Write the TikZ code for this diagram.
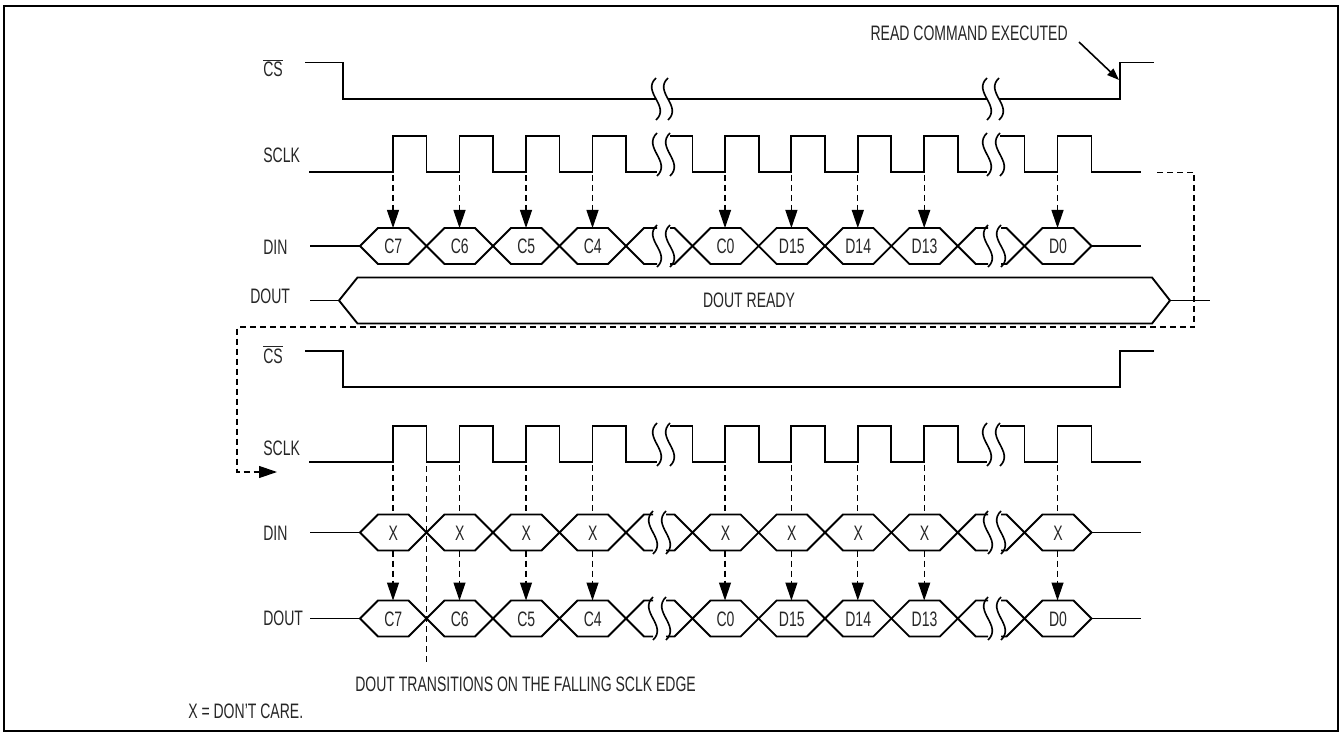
\documentclass[tikz,border=0pt]{standalone}
\usepackage{fontspec}
\setmainfont{Liberation Sans}[FakeStretch=0.67]
\usetikzlibrary{arrows.meta}
% hex cell: #1 left cross x, #2 right cross x, #3 mid y, #4 half height, #5 label, #6 name
\newcommand\hexcell[6]{%
  \draw[sig] (#1,#3) -- (#1+18,#3-#4) -- (#2-18,#3-#4) -- (#2,#3) -- (#2-18,#3+#4) -- (#1+18,#3+#4) -- cycle;
  \node[txt,anchor=base] (#6) at ({(#1+#2)/2},#3+7.5) {#5};}
% lines from a cross into a break: #1 cross x, #2 mid y, #3 half height, #4 squiggle x
\newcommand\tobreak[4]{%
  \draw[sig] (#4,#2-#3) -- (#1+18,#2-#3) -- (#1,#2) -- (#1+18,#2+#3) -- (#4,#2+#3);}
% lines from a break into a cross: #1 squiggle x, #2 mid y, #3 half height, #4 cross x
\newcommand\frombreak[4]{%
  \draw[sig] (#1,#2-#3) -- (#4-18,#2-#3) -- (#4,#2) -- (#4-18,#2+#3) -- (#1,#2+#3);}
% wavy break mark: #1 x, #2 top y, #3 bottom y
\newcommand\wsq[3]{%
  \draw[line width=1.2pt] (#1,#2) .. controls (#1-15,{#2+(#3-#2)/3}) and (#1+15,{#2+2*(#3-#2)/3}) .. (#1,#3);}
\begin{document}
\begin{tikzpicture}[x=0.75pt,y=-0.75pt,
  sig/.style={line width=1.4pt, line join=miter},
  guide/.style={line width=0.9pt, dash pattern=on 4.5pt off 3pt},
  garrow/.style={guide, -{Triangle[length=13.5pt,width=9pt]}},
  txt/.style={inner sep=0pt, text=black!85, font=\fontsize{15.7}{18}\selectfont},
  lbl/.style={txt, anchor=base west},
]
\useasboundingbox (0,0) rectangle (1341,734);
\draw[line width=1.5pt] (4,6) rectangle (1338,731);

% ---------------- labels ----------------
\node[lbl] (csA) at (263,77) {$\overline{\hbox{CS}}$};
\node[lbl] (sclkA) at (263,163) {SCLK};
\node[lbl] (dinA) at (263,255) {DIN};
\node[lbl] (doutA) at (250,303) {DOUT};
\node[lbl] (csB) at (263,363) {$\overline{\hbox{CS}}$};
\node[lbl] (sclkB) at (263,455) {SCLK};
\node[lbl] (dinB) at (263,540) {DIN};
\node[lbl] (doutB) at (263,625) {DOUT};
\node[txt,anchor=base east] (rce) at (1068,41) {READ COMMAND EXECUTED};
\node[txt,anchor=base west] (dtr) at (355,691) {DOUT TRANSITIONS ON THE FALLING SCLK EDGE};
\node[txt,anchor=base west] (xdc) at (188,718) {X = DON'T CARE.};

% ---------------- upper CS ----------------
\draw[sig] (305,62.5) -- (343,62.5) -- (343,99) -- (656,99);
\wsq{656}{78}{120}\wsq{668}{78}{120}
\draw[sig] (668,99) -- (987,99);
\wsq{987}{78}{120}\wsq{999}{78}{120}
\draw[sig] (999,99) -- (1120,99) -- (1120,62.5) -- (1154,62.5);
\coordinate (rceA) at (1079,42);
\coordinate (rceB) at (1119,80);
\draw[line width=1.2pt,-{Triangle[length=9pt,width=6.5pt]}] (rceA) -- (rceB);

% ---------------- upper SCLK ----------------
\def\lo{172}\def\hi{136}
\draw[sig] (309,\lo) \foreach \r in {393,459.5,526,592.5} { -- (\r,\lo) -- (\r,\hi) -- (\r+33.5,\hi) -- (\r+33.5,\lo) } -- (657,\lo);
\wsq{657}{133}{176}\wsq{670}{133}{176}
\draw[sig] (670,\hi) -- (692.5,\hi) -- (692.5,\lo) \foreach \r in {725,791.4,857.8,924.2} { -- (\r,\lo) -- (\r,\hi) -- (\r+33.6,\hi) -- (\r+33.6,\lo) } -- (987,\lo);
\wsq{987}{133}{176}\wsq{1000}{133}{176}
\draw[sig] (1000,\hi) -- (1024.5,\hi) -- (1024.5,\lo) -- (1057.5,\lo) -- (1057.5,\hi) -- (1091.5,\hi) -- (1091.5,\lo) -- (1141,\lo);

% ---------------- upper DIN ----------------
\draw[sig] (310,246) -- (360,246);
\hexcell{360}{426.5}{246}{18}{C7}{a1}
\hexcell{426.5}{493}{246}{18}{C6}{a2}
\hexcell{493}{559.5}{246}{18}{C5}{a3}
\hexcell{559.5}{626}{246}{18}{C4}{a4}
\tobreak{626}{246}{18}{657}
\wsq{657}{225}{267}\wsq{670}{225}{267}
\frombreak{670}{246}{18}{692.5}
\hexcell{692.5}{758.6}{246}{18}{C0}{a5}
\hexcell{758.6}{825}{246}{18}{D15}{a6}
\hexcell{825}{891.4}{246}{18}{D14}{a7}
\hexcell{891.4}{957.8}{246}{18}{D13}{a8}
\tobreak{957.8}{246}{18}{988}
\wsq{988}{225}{267}\wsq{1001}{225}{267}
\frombreak{1001}{246}{18}{1024.5}
\hexcell{1024.5}{1091.5}{246}{18}{D0}{a9}
\draw[sig] (1091.5,246) -- (1141,246);

% upper guide arrows
\foreach \x [count=\i] in {393,459.5,526,592.5,725,791.4,857.8,924.2,1057.5} {
  \coordinate (ua\i) at (\x,175);
  \coordinate (ub\i) at (\x,228);
  \draw[garrow] (ua\i) -- (ub\i);
}

% ---------------- upper DOUT ----------------
\draw[sig] (310,300.5) -- (339,300.5);
\draw[sig] (339,300.5) -- (357.5,277.5) -- (1152,277.5) -- (1170,300.5) -- (1152,323.5) -- (357.5,323.5) -- cycle;
\draw[sig] (1170,300.5) -- (1210,300.5);
\node[txt,anchor=base] (ready) at (749,307.5) {DOUT READY};

% feedback dashed path
\coordinate (fb0) at (1157,172.5);
\coordinate (fb1) at (1194,172.5);
\coordinate (fb2) at (1194,327);
\coordinate (fb3) at (237,327);
\coordinate (fb4) at (237,472);
\coordinate (fb5) at (277,472);
\draw[garrow] (fb0) -- (fb1) -- (fb2) -- (fb3) -- (fb4) -- (fb5);

% ---------------- lower CS ----------------
\draw[sig] (305,351) -- (343,351) -- (343,387) -- (1120,387) -- (1120,351) -- (1154,351);

% ---------------- lower SCLK ----------------
\def\lo{462}\def\hi{426}
\draw[sig] (309,\lo) \foreach \r in {393,459.5,526,592.5} { -- (\r,\lo) -- (\r,\hi) -- (\r+33.5,\hi) -- (\r+33.5,\lo) } -- (657,\lo);
\wsq{657}{423}{466}\wsq{670}{423}{466}
\draw[sig] (670,\hi) -- (692.5,\hi) -- (692.5,\lo) \foreach \r in {725,791.4,857.8,924.2} { -- (\r,\lo) -- (\r,\hi) -- (\r+33.6,\hi) -- (\r+33.6,\lo) } -- (987,\lo);
\wsq{987}{423}{466}\wsq{1000}{423}{466}
\draw[sig] (1000,\hi) -- (1024.5,\hi) -- (1024.5,\lo) -- (1057.5,\lo) -- (1057.5,\hi) -- (1091.5,\hi) -- (1091.5,\lo) -- (1141,\lo);

% ---------------- lower DIN ----------------
\draw[sig] (310,532.5) -- (360,532.5);
\hexcell{360}{426.5}{532.5}{18}{X}{b1}
\hexcell{426.5}{493}{532.5}{18}{X}{b2}
\hexcell{493}{559.5}{532.5}{18}{X}{b3}
\hexcell{559.5}{626}{532.5}{18}{X}{b4}
\tobreak{626}{532.5}{18}{653}
\wsq{653}{511}{554}\wsq{666}{511}{554}
\frombreak{666}{532.5}{18}{692.5}
\hexcell{692.5}{758.6}{532.5}{18}{X}{b5}
\hexcell{758.6}{825}{532.5}{18}{X}{b6}
\hexcell{825}{891.4}{532.5}{18}{X}{b7}
\hexcell{891.4}{957.8}{532.5}{18}{X}{b8}
\tobreak{957.8}{532.5}{18}{988}
\wsq{988}{511}{554}\wsq{1001}{511}{554}
\frombreak{1001}{532.5}{18}{1024.5}
\hexcell{1024.5}{1091.5}{532.5}{18}{X}{b9}
\draw[sig] (1091.5,532.5) -- (1141,532.5);

% ---------------- lower DOUT ----------------
\draw[sig] (310,618.5) -- (360,618.5);
\hexcell{360}{426.5}{618.5}{18}{C7}{c1}
\hexcell{426.5}{493}{618.5}{18}{C6}{c2}
\hexcell{493}{559.5}{618.5}{18}{C5}{c3}
\hexcell{559.5}{626}{618.5}{18}{C4}{c4}
\tobreak{626}{618.5}{18}{653}
\wsq{653}{597}{640}\wsq{666}{597}{640}
\frombreak{666}{618.5}{18}{692.5}
\hexcell{692.5}{758.6}{618.5}{18}{C0}{c5}
\hexcell{758.6}{825}{618.5}{18}{D15}{c6}
\hexcell{825}{891.4}{618.5}{18}{D14}{c7}
\hexcell{891.4}{957.8}{618.5}{18}{D13}{c8}
\tobreak{957.8}{618.5}{18}{988}
\wsq{988}{597}{640}\wsq{1001}{597}{640}
\frombreak{1001}{618.5}{18}{1024.5}
\hexcell{1024.5}{1091.5}{618.5}{18}{D0}{c9}
\draw[sig] (1091.5,618.5) -- (1141,618.5);

% lower guides
\foreach \x [count=\i] in {393,459.5,526,592.5,725,791.4,857.8,924.2,1057.5} {
  \coordinate (la\i) at (\x,465);
  \coordinate (lb\i) at (\x,514.5);
  \coordinate (lc\i) at (\x,550.5);
  \coordinate (ld\i) at (\x,600.5);
  \draw[guide] (la\i) -- (lb\i);
  \draw[garrow] (lc\i) -- (ld\i);
}
\coordinate (fe1) at (426.5,466);
\coordinate (fe2) at (426.5,662);
\draw[guide] (fe1) -- (fe2);
\end{tikzpicture}
\end{document}
